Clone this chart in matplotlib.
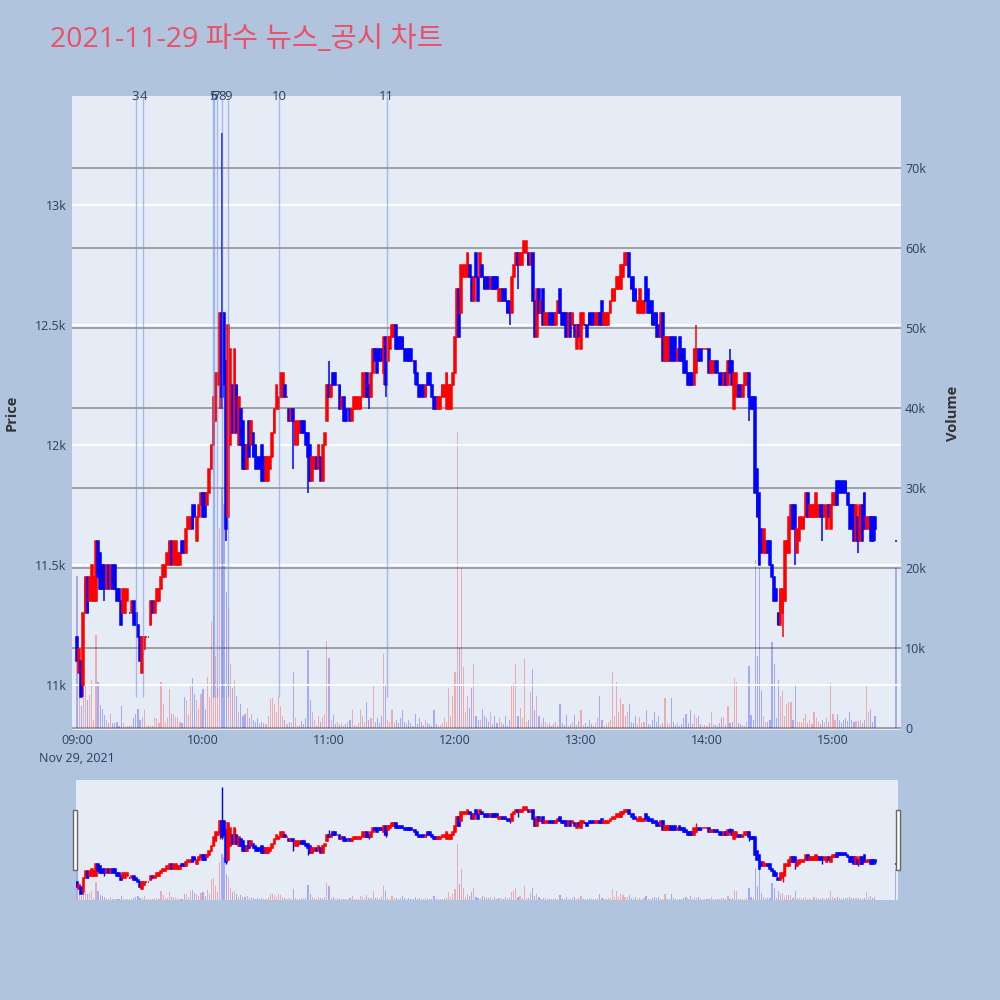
import numpy as np
import pandas as pd
import matplotlib
matplotlib.use("Agg")
import matplotlib.pyplot as plt
import matplotlib.transforms as mtransforms
from matplotlib.patches import Rectangle

plt.rcParams['font.family'] = ['Open Sans', 'Noto Sans CJK KR', 'DejaVu Sans']

title = '2021-11-29 파수 뉴스_공시 차트'

# 1분봉 시간 (09:00~15:20, 15:30 동시호가)
times = list(pd.date_range('2021-11-29 09:00', '2021-11-29 15:20', freq='min')) + [pd.Timestamp('2021-11-29 15:30')]

opens = [
    11200, 11050, 11100, 11000, 11300, 11450, 11350, 11350, 11350, 11350,
    11600, 11550, 11500, 11500, 11400, 11500, 11400, 11500, 11500, 11400,
    11400, 11350, 11300, 11300, 11350, 11300, 11300, 11350, 11300, 11250,
    11200, 11050, 11150, 11200, 11200, 11250, 11350, 11300, 11350, 11350,
    11400, 11450, 11450, 11500, 11500, 11600, 11500, 11500, 11500, 11500,
    11600, 11600, 11550, 11650, 11650, 11750, 11750, 11600, 11700, 11750,
    11800, 11800, 11750, 11800, 11900, 12000, 12100, 12250, 12300, 12550,
    12550, 12350, 11700, 12000, 12250, 12050, 12250, 12000, 12150, 12100,
    12000, 11900, 12100, 12000, 12050, 12000, 11950, 11950, 12000, 11950,
    11850, 11850, 11900, 11950, 12050, 12150, 12150, 12200, 12200, 12250,
    12200, 12150, 12100, 12150, 12000, 12000, 12050, 12100, 12100, 12050,
    12050, 12000, 11850, 11900, 11950, 11900, 11950, 11850, 12000, 12100,
    12250, 12200, 12300, 12300, 12250, 12250, 12150, 12200, 12150, 12150,
    12150, 12100, 12150, 12150, 12150, 12150, 12200, 12200, 12300, 12250,
    12200, 12300, 12400, 12400, 12400, 12400, 12300, 12450, 12350, 12400,
    12450, 12450, 12500, 12450, 12450, 12450, 12400, 12400, 12400, 12400,
    12350, 12350, 12300, 12250, 12250, 12250, 12200, 12300, 12300, 12250,
    12200, 12200, 12150, 12150, 12200, 12200, 12150, 12150, 12150, 12250,
    12300, 12450, 12650, 12550, 12700, 12700, 12700, 12750, 12700, 12600,
    12800, 12700, 12700, 12750, 12700, 12700, 12700, 12650, 12700, 12700,
    12700, 12600, 12600, 12650, 12650, 12600, 12600, 12550, 12700, 12750,
    12800, 12750, 12750, 12800, 12800, 12800, 12750, 12800, 12600, 12450,
    12650, 12550, 12650, 12500, 12500, 12550, 12550, 12550, 12500, 12550,
    12650, 12550, 12550, 12550, 12450, 12550, 12500, 12500, 12400, 12500,
    12400, 12500, 12500, 12500, 12550, 12550, 12550, 12500, 12500, 12550,
    12600, 12500, 12500, 12500, 12550, 12600, 12600, 12650, 12650, 12650,
    12700, 12750, 12750, 12800, 12700, 12700, 12650, 12550, 12550, 12550,
    12550, 12700, 12650, 12600, 12600, 12550, 12550, 12500, 12450, 12550,
    12350, 12350, 12350, 12450, 12450, 12450, 12350, 12450, 12400, 12400,
    12350, 12300, 12300, 12300, 12250, 12300, 12400, 12400, 12400, 12400,
    12400, 12400, 12300, 12300, 12350, 12350, 12300, 12300, 12250, 12300,
    12250, 12350, 12350, 12150, 12200, 12250, 12250, 12200, 12250, 12250,
    12300, 12200, 12200, 12200, 11900, 11800, 11650, 11550, 11550, 11600,
    11600, 11500, 11450, 11400, 11300, 11250, 11300, 11350, 11550, 11550,
    11650, 11750, 11750, 11550, 11600, 11650, 11650, 11700, 11800, 11700,
    11700, 11700, 11700, 11700, 11750, 11750, 11700, 11650, 11750, 11650,
    11750, 11750, 11850, 11850, 11850, 11850, 11850, 11800, 11750, 11750,
    11750, 11600, 11700, 11600, 11750, 11800, 11650, 11650, 11700, 11700,
    11700, 11600,
]

closes = [
    11100, 11150, 10950, 11300, 11450, 11300, 11450, 11500, 11450, 11600,
    11450, 11400, 11400, 11400, 11500, 11400, 11500, 11400, 11400, 11350,
    11350, 11250, 11400, 11400, 11400, 11300, 11350, 11250, 11250, 11200,
    11100, 11200, 11200, 11200, 11200, 11350, 11300, 11350, 11400, 11400,
    11450, 11500, 11500, 11550, 11600, 11500, 11600, 11600, 11550, 11550,
    11550, 11550, 11650, 11700, 11700, 11650, 11700, 11700, 11750, 11800,
    11700, 11700, 11800, 11900, 12000, 12200, 12300, 12300, 12550, 12200,
    12250, 11650, 12500, 12400, 12050, 12400, 12050, 12200, 12000, 11900,
    11900, 12000, 11950, 12100, 11950, 11900, 11900, 11900, 11850, 11850,
    11950, 11950, 11950, 12050, 12150, 12250, 12200, 12300, 12300, 12200,
    12200, 12100, 12150, 12100, 12100, 12100, 12100, 12050, 12050, 12000,
    11950, 11850, 11950, 11950, 11900, 12000, 11850, 12000, 12050, 12250,
    12200, 12250, 12250, 12250, 12250, 12150, 12200, 12100, 12100, 12150,
    12100, 12150, 12200, 12200, 12200, 12200, 12300, 12300, 12200, 12200,
    12300, 12400, 12350, 12300, 12350, 12350, 12450, 12250, 12450, 12450,
    12500, 12500, 12400, 12400, 12400, 12400, 12350, 12350, 12350, 12350,
    12350, 12300, 12250, 12200, 12200, 12200, 12250, 12250, 12250, 12200,
    12150, 12150, 12200, 12200, 12250, 12250, 12300, 12250, 12250, 12300,
    12450, 12650, 12450, 12750, 12750, 12750, 12800, 12700, 12600, 12700,
    12700, 12600, 12800, 12700, 12650, 12650, 12650, 12700, 12650, 12650,
    12650, 12650, 12650, 12600, 12600, 12550, 12550, 12700, 12750, 12800,
    12750, 12800, 12800, 12850, 12850, 12750, 12800, 12600, 12450, 12650,
    12550, 12600, 12500, 12550, 12550, 12500, 12500, 12500, 12550, 12600,
    12550, 12500, 12500, 12450, 12550, 12450, 12550, 12450, 12500, 12450,
    12550, 12550, 12500, 12450, 12500, 12500, 12500, 12550, 12550, 12500,
    12500, 12550, 12550, 12550, 12600, 12650, 12650, 12700, 12700, 12750,
    12750, 12800, 12800, 12700, 12650, 12600, 12600, 12600, 12650, 12600,
    12600, 12600, 12550, 12550, 12500, 12500, 12450, 12450, 12550, 12350,
    12450, 12450, 12450, 12350, 12350, 12350, 12400, 12350, 12350, 12300,
    12300, 12250, 12250, 12250, 12400, 12400, 12350, 12350, 12400, 12400,
    12400, 12300, 12350, 12350, 12300, 12300, 12250, 12250, 12300, 12250,
    12350, 12300, 12250, 12300, 12300, 12200, 12200, 12250, 12300, 12300,
    12200, 12150, 12150, 11800, 11700, 11500, 11550, 11650, 11600, 11550,
    11500, 11450, 11350, 11350, 11250, 11400, 11400, 11600, 11600, 11700,
    11750, 11650, 11650, 11650, 11700, 11700, 11700, 11800, 11700, 11750,
    11750, 11750, 11800, 11750, 11700, 11700, 11750, 11750, 11700, 11750,
    11800, 11800, 11750, 11800, 11800, 11800, 11800, 11750, 11650, 11650,
    11600, 11750, 11600, 11750, 11600, 11650, 11700, 11700, 11600, 11600,
    11650, 11600,
]

# 꼬리 (몸통 밖으로 나온 고가/저가만)
high_wicks = {69: 13300, 120: 12350, 295: 12500, 311: 12400}
low_wicks = {3: 10950, 13: 11350, 68: 12150, 69: 12150, 71: 11600, 103: 11900,
             110: 11800, 139: 12150, 146: 12250, 147: 12200, 161: 12250,
             206: 12500, 210: 12650, 320: 12100, 336: 11200, 342: 11500,
             355: 11600, 372: 11550, 380: 11600}

volumes = [
    19000, 5600, 2700, 3700, 5400, 3500, 4100, 6000, 1000, 11600,
    5800, 2900, 2400, 1600, 1000, 600, 1800, 600, 600, 700,
    300, 2700, 600, 200, 300, 200, 400, 1200, 1800, 2400,
    1000, 1400, 2300, 300, 400, 200, 300, 1200, 1300, 600,
    5800, 3000, 800, 1300, 4900, 1800, 1800, 1400, 1400, 700,
    600, 3900, 3500, 1800, 5400, 6300, 4300, 3500, 2400, 4300,
    4900, 2400, 6400, 3900, 13300, 14000, 9000, 5000, 25000, 30000,
    28000, 17000, 15000, 8000, 5000, 6000, 4000, 2000, 3000, 1500,
    1800, 2500, 1200, 1800, 1000, 700, 1200, 500, 800, 600,
    500, 1500, 3600, 3800, 3000, 2000, 3900, 2800, 1500, 1000,
    500, 800, 600, 7000, 1200, 300, 400, 900, 500, 1300,
    9700, 3500, 2000, 1000, 300, 1500, 800, 1400, 1800, 10900,
    8800, 1000, 1600, 500, 800, 400, 600, 300, 500, 700,
    1000, 2200, 400, 300, 600, 2200, 1500, 800, 3300, 1000,
    1200, 5500, 800, 1300, 600, 1500, 9300, 5500, 1000, 700,
    2200, 800, 1000, 600, 1200, 2200, 800, 500, 1000, 600,
    300, 1800, 500, 1300, 700, 400, 1000, 600, 500, 300,
    2200, 500, 300, 400, 600, 1200, 800, 5000, 1500, 4000,
    7000, 37000, 10000, 20000, 7600, 2000, 4000, 2500, 5000, 8000,
    1500, 1000, 1000, 2400, 1500, 1200, 800, 2000, 500, 1500,
    600, 1200, 800, 500, 1500, 300, 1000, 5200, 5600, 8000,
    1500, 2500, 1200, 8700, 800, 1000, 4500, 7400, 2200, 4000,
    1500, 600, 1200, 800, 400, 600, 300, 500, 800, 400,
    3000, 600, 400, 1600, 300, 500, 800, 1600, 400, 900,
    2200, 400, 600, 300, 1000, 500, 300, 600, 1200, 4000,
    1000, 300, 500, 800, 1000, 7000, 1500, 5800, 2000, 3700,
    3000, 1500, 2000, 3000, 800, 600, 1500, 500, 1400, 600,
    800, 2300, 500, 400, 1000, 2000, 800, 1500, 400, 600,
    3700, 600, 500, 3700, 800, 400, 600, 300, 500, 1200,
    1800, 600, 2300, 500, 1800, 1200, 1500, 500, 300, 400,
    300, 600, 2000, 500, 400, 300, 600, 1200, 1400, 400,
    2700, 600, 800, 6200, 5800, 600, 500, 400, 300, 800,
    7700, 1600, 1000, 21000, 9000, 20000, 4600, 1500, 800, 800,
    1000, 10800, 8000, 1200, 6000, 4000, 4600, 1500, 3000, 3200,
    3200, 1000, 5500, 800, 800, 800, 1200, 1800, 600, 1000,
    500, 2000, 1200, 800, 500, 1000, 700, 1200, 800, 5600,
    1800, 1000, 1800, 1000, 600, 1000, 1200, 900, 2000, 1000,
    800, 900, 900, 1000, 600, 1000, 5200, 2000, 2400, 800,
    1500, 20000,
]

# 뉴스/공시 시각과 번호
news_times = ['09:27:54', '09:31:36', '10:04:36', '10:05:12', '10:06:30',
              '10:09:12', '10:12:00', '10:36:18', '11:27:30']
news_labels = ['3', '4', '5', '6', '7', '8', '9', '10', '11']

price_ticks = [11000, 11500, 12000, 12500, 13000]
price_ticklabels = ['11k', '11.5k', '12k', '12.5k', '13k']
vol_ticks = [0, 10000, 20000, 30000, 40000, 50000, 60000, 70000]
vol_ticklabels = ['0', '10k', '20k', '30k', '40k', '50k', '60k', '70k']
time_ticks = ['09:00', '10:00', '11:00', '12:00', '13:00', '14:00', '15:00']

BG = '#B0C4DE'
PLOT_BG = '#E5ECF6'
TXT = '#2a3f5f'

t0 = pd.Timestamp('2021-11-29 09:00')
x = np.array([(t - t0).total_seconds() / 60 for t in times])
o = np.array(opens, dtype=float)
c = np.array(closes, dtype=float)
hi = np.maximum(o, c)
lo = np.minimum(o, c)
for k, v in high_wicks.items():
    hi[k] = v
for k, v in low_wicks.items():
    lo[k] = v

# 양봉 빨강 / 음봉 파랑 (보합이면 전봉 종가와 비교)
up = c > o
for i in range(len(c)):
    if c[i] == o[i] and i > 0:
        up[i] = c[i] >= c[i - 1]
colors = np.where(up, '#ff0000', '#0000ff')

news_x = [(pd.Timestamp('2021-11-29 ' + s) - t0).total_seconds() / 60 for s in news_times]
tick_x = [(pd.Timestamp('2021-11-29 ' + s) - t0).total_seconds() / 60 for s in time_ticks]

PRICE_LIM = (10812, 13454)
VOL_LIM = (-250, 79000)


def draw(axp, axv, body_w, body_lw, wick_lw):
    axv.bar(x, volumes, width=0.55, color=colors, alpha=0.28, linewidth=0, zorder=2)
    axp.vlines(x, lo, hi, colors=colors, linewidth=wick_lw, zorder=3)
    axp.bar(x, np.abs(c - o), bottom=np.minimum(o, c), width=body_w, color=colors,
            edgecolor=colors, linewidth=body_lw, zorder=4)
    axp.set_ylim(*PRICE_LIM)
    axv.set_ylim(*VOL_LIM)
    for a in (axp, axv):
        for s in a.spines.values():
            s.set_visible(False)


fig = plt.figure(figsize=(10, 10), dpi=100, facecolor=BG)

# 메인 차트 (아래 axes = 거래량, 위 twin = 가격)
axv = fig.add_axes([0.072, 0.27, 0.829, 0.634])
axv.set_facecolor(PLOT_BG)
ax = axv.twinx()
ax.set_zorder(axv.get_zorder() + 1)
ax.patch.set_visible(False)
ax.yaxis.tick_left()
ax.yaxis.set_label_position('left')
axv.yaxis.tick_right()
axv.yaxis.set_label_position('right')

draw(ax, axv, 0.8, 1.1, 1.1)
axv.set_xlim(-2.4, 392.4)

ax.set_yticks(price_ticks)
ax.set_yticklabels(price_ticklabels)
axv.set_yticks(vol_ticks)
axv.set_yticklabels(vol_ticklabels)
ax.yaxis.grid(True, color='white', linewidth=1.3, zorder=0)
axv.yaxis.grid(True, color='#999999', linewidth=1.3, zorder=0)
ax.set_axisbelow(True)
axv.set_axisbelow(True)

axv.set_xticks(tick_x)
axv.set_xticklabels([time_ticks[0] + '\nNov 29, 2021'] + time_ticks[1:])
ax.tick_params(axis='both', length=0, labelsize=9, colors=TXT, pad=4)
axv.tick_params(axis='both', length=0, labelsize=9, colors=TXT, pad=3)
for lab in axv.get_xticklabels():
    lab.set_linespacing(1.45)

ax.set_ylabel('Price', fontsize=10.5, fontweight='bold', color='#333333', labelpad=12)
axv.set_ylabel('Volume', fontsize=10.5, fontweight='bold', color='#333333', labelpad=14)

# 뉴스/공시 세로선 (5,6 번호는 원본처럼 겹침)
trans = mtransforms.blended_transform_factory(ax.transData, ax.transAxes)
ax.vlines(news_x, 10950, PRICE_LIM[1], colors='#6f8ee6', alpha=0.55, linewidth=1.0, zorder=5)
for nx, lab in zip(news_x, news_labels):
    ax.text(nx, 1.0, lab, transform=trans, ha='center', va='center',
            fontsize=9.5, color=TXT, clip_on=False)

# 레인지 슬라이더
rv = fig.add_axes([0.076, 0.10, 0.822, 0.12])
rv.set_facecolor(PLOT_BG)
rp = rv.twinx()
rp.set_zorder(rv.get_zorder() + 1)
rp.patch.set_visible(False)
draw(rp, rv, 0.8, 1.1, 1.0)
rv.set_xlim(-0.5, 391.0)
for a in (rv, rp):
    a.set_xticks([])
    a.set_yticks([])
for hx in (0.0725, 0.8955):
    fig.patches.append(Rectangle((hx, 0.13), 0.0045, 0.06, transform=fig.transFigure,
                                 facecolor='white', edgecolor='#666666', linewidth=1.0))

fig.text(0.05, 0.96, title, fontsize=20.5, color='#EC5068', va='center', ha='left')

fig.savefig('out.png', dpi=100, facecolor=BG)
